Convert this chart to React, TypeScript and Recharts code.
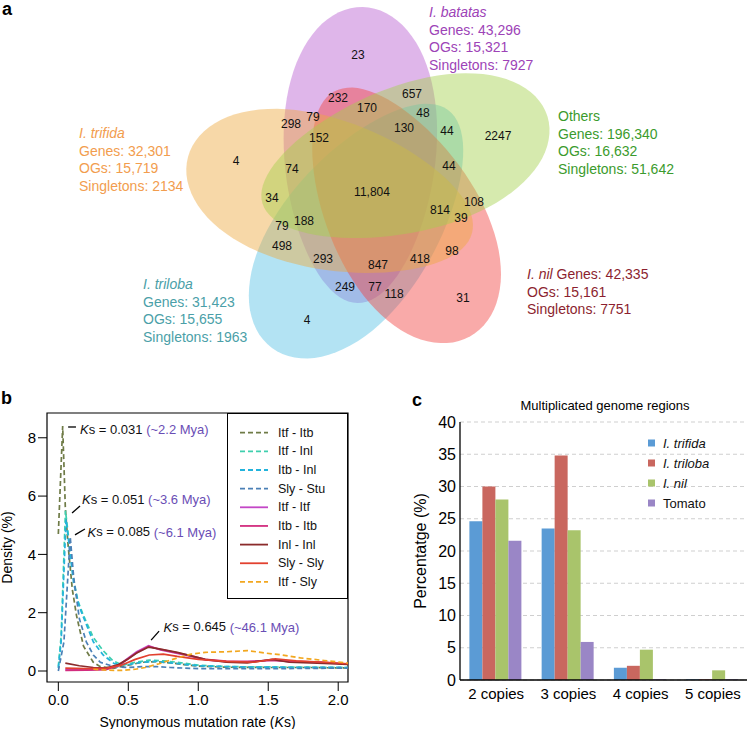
import React from 'react';
import {
  ScatterChart, Scatter, ComposedChart, Line, BarChart, Bar, XAxis, YAxis,
  CartesianGrid, Legend, ReferenceLine, ReferenceArea, Label,
} from 'recharts';

const FONT = '"Liberation Sans", Arial, Helvetica, sans-serif';

// ---------- a: orthologous groups shared between genomes
const setNames = ['I. trifida', 'I. batatas', 'Others', 'I. nil', 'I. triloba'];
const setGenes = ['32,301', '43,296', '196,340', '42,335', '31,423'];
const setOGs = ['15,719', '15,321', '16,632', '15,161', '15,655'];
const setSingletons = ['2134', '7927', '51,642', '7751', '1963'];
const regionCounts = [
  '23', '232', '657', '170', '48', '79', '298', '130', '44', '2247', '152', '4', '74', '44',
  '11,804', '34', '108', '814', '39', '188', '79', '498', '98', '293', '418', '847', '249',
  '77', '118', '31', '4',
];

// layout of the diagram (pixels): centre x, centre y, half length, half width, wide-end direction
const vennShapes = [
  [330, 195, 147, 75, 195],
  [360, 155, 148, 76, -89],
  [405, 160, 149, 73, -17],
  [402, 214, 140, 75, 61],
  [360, 229, 148, 76, 126.5],
];
const drawOrder = [1, 4, 3, 0, 2];
const vennFills = ['#eda83e', '#b85dd0', '#a4d04b', '#f24240', '#56c1e4'];
const vennAlpha = 0.45;
const vennInk = ['#f29d4e', '#9d43b7', '#3b9b2d', '#8c1f2f', '#4b9fa8'];
const setItalic = [true, true, false, true, true];
const regionSpots = [
  [358, 55], [338, 98], [412, 94], [367, 108], [423, 113], [313, 117], [291, 124], [404, 128],
  [447, 131], [498, 136], [319, 138], [236, 161], [292, 169], [449, 166], [372, 192], [272, 198],
  [474, 202], [440, 210], [461, 218], [304, 221], [282, 226], [282, 246], [452, 251], [323, 259],
  [420, 259], [378, 265], [345, 287], [375, 287], [394, 294], [463, 298], [307, 320],
];
const labelSpots = [[79, 133], [429, 12], [558, 116], [527, 274], [143, 284]];

// ---------- b: Ks distributions
const ksTicks = [0, 0.5, 1, 1.5, 2];
const densityTicks = [0, 2, 4, 6, 8];
const pairNames = ['Itf - Itb', 'Itf - Inl', 'Itb - Inl', 'Sly - Stu', 'Itf - Itf', 'Itb - Itb', 'Inl - Inl', 'Sly - Sly', 'Itf - Sly'];
const pairColors = ['#6f7b47', '#3fcfae', '#22b3dc', '#4b80b6', '#c347c6', '#d22d7f', '#8b2b2b', '#e2412f', '#f2a71f'];
const pairDashed = [true, true, true, true, false, false, false, false, true];

const itfItb = [[0, 4.7], [0.031, 8.4], [0.05, 5.6], [0.07, 4.3], [0.1, 2.8], [0.13, 1.9], [0.18, 0.85], [0.25, 0.3], [0.3, 0.15], [0.4, 0.1], [0.5, 0.2], [0.6, 0.3], [0.7, 0.32], [0.8, 0.28], [0.9, 0.22], [1.0, 0.17], [1.2, 0.13], [1.5, 0.12], [1.8, 0.12], [2.1, 0.1]];
const itfInl = [[0, 0.15], [0.02, 1.2], [0.051, 5.5], [0.08, 4.3], [0.107, 3.2], [0.14, 2.4], [0.18, 1.9], [0.25, 1.15], [0.32, 0.7], [0.39, 0.35], [0.46, 0.2], [0.55, 0.3], [0.65, 0.37], [0.75, 0.35], [0.85, 0.3], [1.0, 0.2], [1.2, 0.15], [1.5, 0.14], [1.8, 0.13], [2.1, 0.12]];
const itbInl = [[0, 0.1], [0.02, 1.0], [0.055, 5.2], [0.08, 4.2], [0.11, 3.0], [0.15, 2.2], [0.2, 1.6], [0.25, 1.0], [0.32, 0.55], [0.4, 0.25], [0.5, 0.22], [0.6, 0.3], [0.7, 0.33], [0.8, 0.28], [1.0, 0.18], [1.3, 0.14], [1.6, 0.13], [2.1, 0.12]];
const slyStu = [[0, 0], [0.04, 1.0], [0.085, 4.6], [0.11, 3.2], [0.15, 1.8], [0.2, 1.0], [0.25, 0.55], [0.3, 0.3], [0.4, 0.15], [0.5, 0.12], [0.6, 0.15], [0.7, 0.15], [0.8, 0.12], [1.0, 0.08], [1.5, 0.08], [2.1, 0.1]];
const itfItf = [[0.05, 0.05], [0.2, 0.04], [0.34, 0.06], [0.43, 0.2], [0.5, 0.45], [0.56, 0.66], [0.645, 0.87], [0.73, 0.72], [0.85, 0.6], [0.95, 0.5], [1.05, 0.38], [1.2, 0.32], [1.35, 0.31], [1.53, 0.38], [1.65, 0.32], [1.9, 0.3], [2.1, 0.22]];
const itbItb = [[0.05, 0.02], [0.2, 0.03], [0.34, 0.05], [0.43, 0.18], [0.5, 0.42], [0.56, 0.63], [0.645, 0.84], [0.73, 0.74], [0.85, 0.62], [0.95, 0.52], [1.05, 0.4], [1.2, 0.34], [1.35, 0.33], [1.53, 0.36], [1.65, 0.34], [1.9, 0.3], [2.1, 0.22]];
const inlInl = [[0.05, 0.27], [0.15, 0.18], [0.25, 0.12], [0.34, 0.1], [0.43, 0.22], [0.5, 0.42], [0.56, 0.62], [0.645, 0.82], [0.73, 0.75], [0.85, 0.64], [0.95, 0.52], [1.05, 0.4], [1.2, 0.3], [1.35, 0.28], [1.53, 0.4], [1.65, 0.3], [1.9, 0.26], [2.1, 0.22]];
const slySly = [[0.05, 0.1], [0.2, 0.08], [0.35, 0.1], [0.45, 0.2], [0.55, 0.4], [0.65, 0.55], [0.75, 0.58], [0.85, 0.5], [1.0, 0.4], [1.2, 0.33], [1.4, 0.3], [1.55, 0.42], [1.7, 0.35], [1.9, 0.3], [2.1, 0.24]];
const itfSly = [[0.25, 0.06], [0.35, 0.03], [0.45, 0.02], [0.55, 0.06], [0.62, 0.12], [0.72, 0.25], [0.85, 0.45], [0.95, 0.58], [1.05, 0.64], [1.2, 0.66], [1.35, 0.7], [1.49, 0.61], [1.6, 0.55], [1.73, 0.45], [1.9, 0.36], [2.1, 0.26]];
const pairCurves = [itfItb, itfInl, itbInl, slyStu, itfItf, itbItb, inlInl, slySly, itfSly];

const peakKs = ['0.031', '0.051', '0.085', '0.645'];
const peakMya = ['(~2.2 Mya)', '(~3.6 Mya)', '(~6.1 Mya)', '(~46.1 Mya)'];
// leader line from -> to, then text start (Ks, density units)
const peakNotes = [
  [0.07, 8.37, 0.126, 8.37, 0.155, 8.3],
  [0.098, 5.42, 0.155, 5.66, 0.169, 5.9],
  [0.119, 4.67, 0.19, 4.87, 0.209, 4.78],
  [0.663, 1.06, 0.72, 1.37, 0.752, 1.52],
];

// ---------- c: multiplicated genome regions
const copyLabels = ['2 copies', '3 copies', '4 copies', '5 copies'];
const genomes = ['I. trifida', 'I. triloba', 'I. nil', 'Tomato'];
const genomeColors = ['#5b9bd5', '#c9675f', '#a9c46b', '#9a86c6'];
const trifidaPct = [24.6, 23.5, 1.9, 0.1];
const trilobaPct = [30.0, 34.8, 2.2, 0.1];
const nilPct = [28.0, 23.2, 4.7, 1.5];
const tomatoPct = [21.6, 5.9, 0.1, 0.1];
const pctTicks = [0, 5, 10, 15, 20, 25, 30, 35, 40];

function Petal(p: any) {
  const i = p.payload.idx;
  const [, , a, b, deg] = vennShapes[i];
  const r = (deg * Math.PI) / 180;
  const pts: string[] = [];
  for (let s = 0; s < 90; s++) {
    const t = (s / 90) * Math.PI * 2;
    const u = a * Math.cos(t);
    const v = b * Math.sin(t) * (1 + 0.14 * Math.cos(t));
    pts.push(`${(p.cx + u * Math.cos(r) - v * Math.sin(r)).toFixed(1)},${(p.cy + u * Math.sin(r) + v * Math.cos(r)).toFixed(1)}`);
  }
  return <polygon points={pts.join(' ')} fill={vennFills[i]} fillOpacity={vennAlpha} />;
}

function RegionCount(p: any) {
  return (
    <text x={p.cx} y={p.cy} textAnchor="middle" dominantBaseline="central" fontSize={12} fill="#111" fontFamily={FONT}>
      {p.payload.n}
    </text>
  );
}

function SetLabel(p: any) {
  const i = p.payload.idx;
  const name = <tspan fontStyle={setItalic[i] ? 'italic' : 'normal'}>{setNames[i]}</tspan>;
  const rows: React.ReactNode[] = i === 3
    ? [<>{name}{` Genes: ${setGenes[i]}`}</>, `OGs: ${setOGs[i]}`, `Singletons: ${setSingletons[i]}`]
    : [name, `Genes: ${setGenes[i]}`, `OGs: ${setOGs[i]}`, `Singletons: ${setSingletons[i]}`];
  return (
    <g>
      {rows.map((row, k) => (
        <text key={k} x={p.cx} y={p.cy + k * 17.6} dominantBaseline="central" fontSize={14} fill={vennInk[i]} fontFamily={FONT}>
          {row}
        </text>
      ))}
    </g>
  );
}

function VennPanel() {
  const petals = drawOrder.map((i) => ({ x: vennShapes[i][0], y: vennShapes[i][1], idx: i }));
  const counts = regionCounts.map((n, i) => ({ x: regionSpots[i][0], y: regionSpots[i][1], n }));
  const labels = setNames.map((_, i) => ({ x: labelSpots[i][0], y: labelSpots[i][1], idx: i }));
  return (
    <ScatterChart width={747} height={378} margin={{ top: 0, right: 0, bottom: 0, left: 0 }}>
      <XAxis type="number" dataKey="x" domain={[0, 747]} hide />
      <YAxis type="number" dataKey="y" domain={[0, 378]} reversed hide />
      <Scatter data={petals} shape={Petal} isAnimationActive={false} />
      <Scatter data={counts} shape={RegionCount} isAnimationActive={false} />
      <Scatter data={labels} shape={SetLabel} isAnimationActive={false} />
    </ScatterChart>
  );
}

function PeakNote(p: any) {
  const i = p.payload.idx;
  return (
    <text x={p.cx} y={p.cy} dominantBaseline="central" fontSize={13} fill="#111" fontFamily={FONT}>
      <tspan fontStyle="italic">K</tspan>
      {`s = ${peakKs[i]} `}
      <tspan fill="#6a4db5">{peakMya[i]}</tspan>
    </text>
  );
}

function PairKey() {
  return (
    <svg width={121} height={186} style={{ display: 'block', background: '#fff', border: '1px solid #000', boxSizing: 'border-box' }}>
      {pairNames.map((name, i) => {
        const y = 18.7 + i * 18.65;
        return (
          <g key={name}>
            <line x1={12} x2={40} y1={y} y2={y} stroke={pairColors[i]} strokeWidth={1.8} strokeDasharray={pairDashed[i] ? '5 3' : undefined} />
            <text x={50} y={y} dominantBaseline="central" fontSize={12.5} fill="#111" fontFamily={FONT}>{name}</text>
          </g>
        );
      })}
    </svg>
  );
}

function KsPanel() {
  const notes = peakNotes.map((n, i) => ({ ks: n[4], d: n[5], idx: i }));
  return (
    <ComposedChart width={380} height={349} margin={{ top: 33, right: 32, bottom: 7, left: 7 }}>
      <XAxis
        type="number" dataKey="ks" domain={[-0.081, 2.07]} ticks={ksTicks} allowDataOverflow
        tickFormatter={(v: number) => v.toFixed(1)} axisLine={false} tickSize={9} tickMargin={3}
        tickLine={{ stroke: '#000' }} tick={{ fill: '#000', fontSize: 15, fontFamily: FONT }} height={40}
      >
        <Label
          content={(lp: any) => {
            const vb = lp.viewBox;
            return (
              <text x={vb.x + vb.width / 2} y={vb.y + 40} textAnchor="middle" dominantBaseline="central" fontSize={14} fill="#000" fontFamily={FONT}>
                Synonymous mutation rate (<tspan fontStyle="italic">K</tspan>s)
              </text>
            );
          }}
        />
      </XAxis>
      <YAxis
        type="number" domain={[-0.377, 8.85]} ticks={densityTicks} allowDataOverflow width={40}
        axisLine={false} tickSize={9} tickMargin={2} tickLine={{ stroke: '#000' }}
        tick={{ fill: '#000', fontSize: 15, fontFamily: FONT }}
      >
        <Label
          content={(lp: any) => {
            const vb = lp.viewBox;
            const cy = vb.y + vb.height / 2;
            return (
              <text x={vb.x} y={cy} transform={`rotate(-90 ${vb.x} ${cy})`} textAnchor="middle" dominantBaseline="central" fontSize={14} fill="#000" fontFamily={FONT}>
                Density (%)
              </text>
            );
          }}
        />
      </YAxis>
      <ReferenceArea x1={-0.081} x2={2.07} y1={-0.377} y2={8.85} fill="none" fillOpacity={0} stroke="#000" strokeWidth={1.2} ifOverflow="visible" />
      {pairCurves.map((curve, i) => (
        <Line
          key={pairNames[i]}
          data={curve.map(([ks, d]) => ({ ks, d }))}
          dataKey="d" type="linear" stroke={pairColors[i]} strokeWidth={1.7}
          strokeDasharray={pairDashed[i] ? '5 3' : undefined}
          dot={false} activeDot={false} isAnimationActive={false}
        />
      ))}
      {peakNotes.map((n, i) => (
        <ReferenceLine key={i} segment={[{ x: n[0], y: n[1] }, { x: n[2], y: n[3] }]} stroke="#000" strokeWidth={1.3} />
      ))}
      <Scatter data={notes} dataKey="d" shape={PeakNote} isAnimationActive={false} />
      <Legend
        layout="horizontal" verticalAlign="middle" align="center"
        wrapperStyle={{ position: 'absolute', left: 227, top: 33, width: 121, height: 186 }}
        content={() => <PairKey />}
      />
    </ComposedChart>
  );
}

function GenomeKey() {
  return (
    <svg width={100} height={84} style={{ display: 'block' }}>
      {genomes.map((g, i) => {
        const y = 8 + i * 20;
        return (
          <g key={g}>
            <rect x={0} y={y - 3.5} width={7} height={7} fill={genomeColors[i]} />
            <text x={15} y={y} dominantBaseline="central" fontSize={13} fill="#111" fontFamily={FONT} fontStyle={i < 3 ? 'italic' : 'normal'}>{g}</text>
          </g>
        );
      })}
    </svg>
  );
}

function CopyPanel() {
  const rows = copyLabels.map((c, i) => ({
    copies: c, trifida: trifidaPct[i], triloba: trilobaPct[i], nil: nilPct[i], tomato: tomatoPct[i],
  }));
  const keys = ['trifida', 'triloba', 'nil', 'tomato'];
  return (
    <BarChart width={379} height={349} data={rows} margin={{ top: 42, right: 0, bottom: 19, left: 30 }} barCategoryGap="13%" barGap={0}>
      <CartesianGrid vertical={false} strokeDasharray="4 3" stroke="#cfcfcf" />
      <XAxis dataKey="copies" axisLine={{ stroke: '#000', strokeWidth: 1.3 }} tickLine={false} tickSize={0} tickMargin={8} height={30} tick={{ fill: '#000', fontSize: 15, fontFamily: FONT }} />
      <YAxis
        domain={[0, 40]} ticks={pctTicks} width={60} axisLine={{ stroke: '#000', strokeWidth: 1.3 }} tickLine={false}
        tickSize={0} tickMargin={4} tick={{ fill: '#000', fontSize: 16, fontFamily: FONT }}
      >
        <Label
          content={(lp: any) => {
            const vb = lp.viewBox;
            const cx = vb.x + 20;
            const cy = vb.y + vb.height / 2;
            return (
              <text x={cx} y={cy} transform={`rotate(-90 ${cx} ${cy})`} textAnchor="middle" dominantBaseline="central" fontSize={16} fill="#000" fontFamily={FONT}>
                Percentatge (%)
              </text>
            );
          }}
        />
      </YAxis>
      {keys.map((k, i) => (
        <Bar key={k} dataKey={k} fill={genomeColors[i]} isAnimationActive={false} />
      ))}
      <Legend
        layout="horizontal" verticalAlign="middle" align="center"
        wrapperStyle={{ position: 'absolute', left: 278, top: 55, width: 100, height: 84 }}
        content={() => <GenomeKey />}
      />
    </BarChart>
  );
}

const letter: React.CSSProperties = { position: 'absolute', fontWeight: 'bold', fontSize: 18, lineHeight: '18px' };

export default function App() {
  return (
    <div style={{ position: 'relative', width: 747, height: 729, overflow: 'hidden', background: '#fff', fontFamily: FONT, color: '#000' }}>
      <style>{'body{margin:0}'}</style>
      <div style={{ position: 'absolute', left: 0, top: 0 }}>
        <VennPanel />
      </div>
      <div style={{ position: 'absolute', left: 0, top: 380 }}>
        <KsPanel />
      </div>
      <div style={{ position: 'absolute', left: 370, top: 380, width: 377, height: 349, overflow: 'hidden' }}>
        <CopyPanel />
        <div style={{ position: 'absolute', left: 0, top: 18, width: 470, textAlign: 'center', fontSize: 13 }}>
          Multiplicated genome regions
        </div>
      </div>
      <div style={{ ...letter, left: 2, top: 0 }}>a</div>
      <div style={{ ...letter, left: 1, top: 389 }}>b</div>
      <div style={{ ...letter, left: 412, top: 391 }}>c</div>
    </div>
  );
}
